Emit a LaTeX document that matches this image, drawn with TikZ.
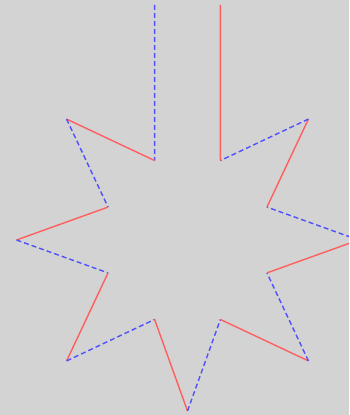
\documentclass[tikz,border=0pt]{standalone}
\usepackage{xcolor}
\usepackage{tikz}
\definecolor{bgGray}{HTML}{D3D3D3}
\definecolor{edgeRed}{HTML}{FF5F5F}
\definecolor{edgeBlue}{HTML}{5050FF}

\begin{document}
\begin{tikzpicture}[x=1pt,y=1pt,
    redseg/.style={edgeRed,line width=1.4pt},
    blueseg/.style={edgeBlue,line width=1.4pt,dash pattern=on 5pt off 3pt}]
    \fill[bgGray](0,0)rectangle(349,415);
    \useasboundingbox(0,0)rectangle(349,415);
    \clip(0,0)rectangle(349,415);
    % open ends at the top
    \coordinate(p0)at(154.6,410);
    \coordinate(p16)at(220.4,410);
    % star points, inner and outer in turn
    \begin{scope}[shift={(187.5,175)}]
        \foreach \i in {1,...,15}{
            \pgfmathsetmacro\rad{isodd(\i)?86:171}
            \coordinate(p\i)at({90+22.5*\i}:\rad);
        }
    \end{scope}
    \foreach \i [evaluate=\i as \j using int(\i+1)] in {0,...,15}{
        \ifodd\i
            \draw[redseg](p\i)--(p\j);
        \else
            \draw[blueseg](p\i)--(p\j);
        \fi
    }
\end{tikzpicture}
\end{document}
